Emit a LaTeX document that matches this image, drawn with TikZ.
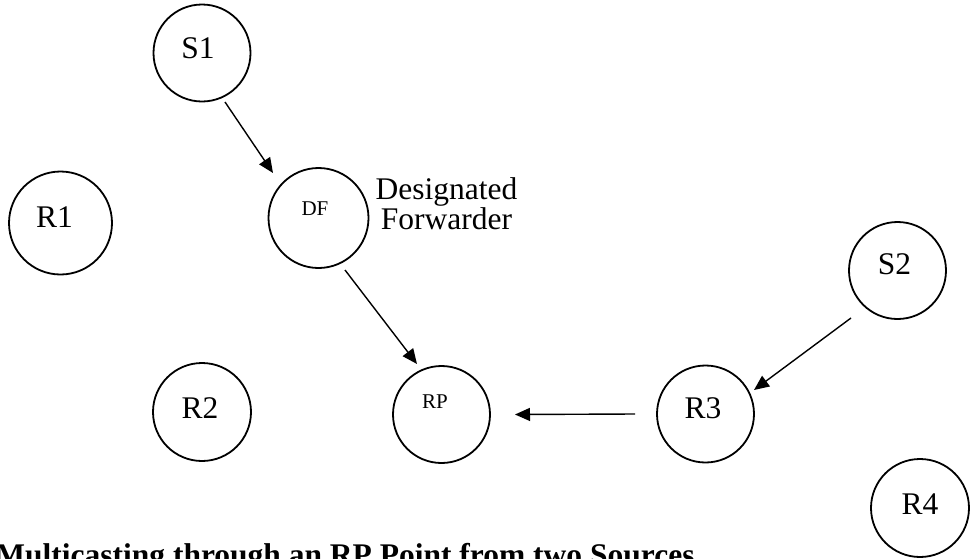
\documentclass[tikz,border=0pt]{standalone}
\usepackage{fontspec}
\setmainfont{Liberation Serif}
\usetikzlibrary{arrows.meta,calc}
\begin{document}
\begin{tikzpicture}[x=0.5pt,y=-0.5pt,
  router/.style={draw, circle, line width=0.9pt, inner sep=0pt, minimum size=#1},
  router/.default=48.5pt,
  rlabel/.style={anchor=base, inner sep=0pt, font=\fontsize{15.75}{18}\selectfont},
  smalllabel/.style={anchor=base, inner sep=0pt, font=\fontsize{10.5}{12}\selectfont},
  flow/.style={-{Triangle[length=7.5pt,width=6.5pt]}, line width=0.7pt}]
\useasboundingbox (0,0) rectangle (970,558);
\clip (0,0) rectangle (970,558);

% routers and sources
\node[router=48.5pt] (S1) at (202,53) {};
\node[router=51.5pt] (R1) at (60.5,223) {};
\node[router=50pt]   (DF) at (318.5,218) {};
\node[router=49pt]   (R2) at (202,412) {};
\node[router=48.5pt] (RP) at (441.5,414.5) {};
\node[router=48.5pt] (R3) at (705.5,414) {};
\node[router=48.5pt] (S2) at (897.5,270.5) {};
\node[router=49pt]   (R4) at (920,508) {};

% their names
\node[rlabel] (S1-l) at ($(S1)+(-4,5)$) {S1};
\node[rlabel] (R1-l) at ($(R1)+(-6,4)$) {R1};
\node[rlabel] (R2-l) at ($(R2)+(-2,6)$) {R2};
\node[rlabel] (R3-l) at ($(R3)+(-2.5,4)$) {R3};
\node[rlabel] (R4-l) at ($(R4)+(0,6)$) {R4};
\node[rlabel] (S2-l) at ($(S2)+(-3,3.5)$) {S2};
\node[smalllabel] (DF-l) at ($(DF)+(-3.5,-3)$) {DF};
\node[smalllabel] (RP-l) at ($(RP)+(-6.5,-6.5)$) {RP};

% note beside the forwarder
\node[align=center, inner sep=0pt, font=\fontsize{15.75}{15}\selectfont] (dfnote) at (446.5,204) {Designated\\Forwarder};

% arrow end points, just off the circles
\coordinate (a1) at ($(S1)+(23,49)$);
\coordinate (b1) at ($(DF)+(-45.5,-45)$);
\coordinate (a2) at ($(DF)+(26.5,52)$);
\coordinate (b2) at ($(RP)+(-24.5,-50.5)$);
\coordinate (a3) at ($(R3)+(-70.5,0)$);
\coordinate (b3) at ($(RP)+(73.5,0)$);
\coordinate (a4) at ($(S2)+(-46.5,47.5)$);
\coordinate (b4) at ($(R3)+(48.5,-24)$);

% traffic towards the rendezvous point
\draw[flow] (a1) -- (b1);
\draw[flow] (a2) -- (b2);
\draw[flow] (a3) -- (b3);
\draw[flow] (a4) -- (b4);

% caption
\node[anchor=base west, inner sep=0pt, font=\bfseries\fontsize{15.75}{18}\selectfont] (caption) at (-5,565) {Multicasting through an RP Point from two Sources};
\end{tikzpicture}
\end{document}
